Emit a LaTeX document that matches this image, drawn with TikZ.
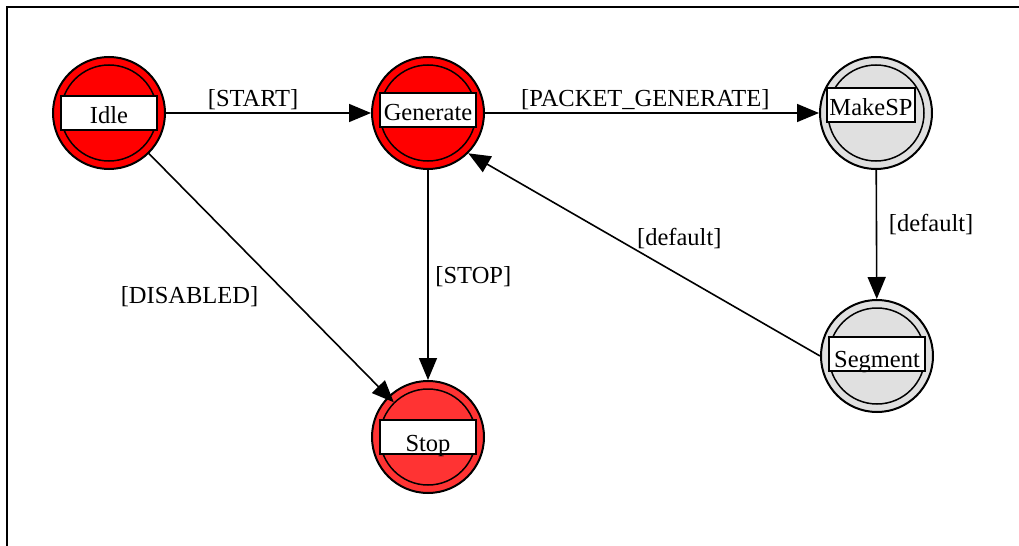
\documentclass[tikz,border=0pt]{standalone}
\usepackage{fontspec}
\setmainfont{Liberation Serif}
\usetikzlibrary{arrows.meta,positioning}

\definecolor{statered}{RGB}{255,0,0}
\definecolor{stopred}{RGB}{255,51,51}
\definecolor{stategray}{RGB}{224,224,224}

\begin{document}
\begin{tikzpicture}[x=0.5pt, y=-0.5pt,
    font=\fontsize{12.25}{14}\selectfont,
    state/.style={circle, draw, line width=1pt, minimum size=56pt, inner sep=0pt},
    ring/.style={circle, draw, line width=0.75pt, minimum size=48pt, inner sep=0pt},
    namebox/.style={draw, fill=white, line width=1pt, minimum width=48pt, minimum height=17pt,
        inner sep=0pt, text height=10.5pt, text depth=0pt},
    trans/.style={-{Triangle[length=11pt, width=9pt]}, line width=0.8pt}]
    \useasboundingbox (0,0) rectangle (1019,546);

    % Frame (cut off at right and bottom)
    \draw[line width=1pt] (1019,7) -- (7,7) -- (7,546);

    % Idle
    \node[state, fill=statered] (idle) at (109,113) {};
    \node[ring] (idlering) at (idle) {};
    \node[namebox] (idlename) at (idle) {Idle};

    % Generate
    \node[state, fill=statered] (generate) at (428,113) {};
    \node[ring] (generatering) at (generate) {};
    \node[namebox] (generatename) at ([yshift=1.5pt]generate) {Generate};

    % MakeSP
    \node[state, fill=stategray] (makesp) at (876,113) {};
    \node[ring] (makespring) at (makesp) {};
    \node[namebox, minimum width=44pt] (makespname) at ([xshift=-2.5pt, yshift=4pt]makesp) {MakeSP};

    % Segment
    \node[state, fill=stategray] (segment) at (877,356) {};
    \node[ring] (segmentring) at (segment) {};
    \node[namebox, text height=13pt] (segmentname) at ([yshift=1pt]segment) {Segment};

    % Stop
    \node[state, fill=stopred] (stop) at (428,437) {};
    \node[ring] (stopring) at (stop) {};
    \node[namebox, text height=14.5pt] (stopname) at (stop) {Stop};

    % Transitions
    \draw[trans] (idle) -- node[pos=0.425, above, inner sep=1pt] (startlabel) {[START]} (generate);
    \draw[trans] (generate) -- node[pos=0.48, above, inner sep=1pt] (packetlabel) {[PACKET\_GENERATE]} (makesp);
    \draw[trans] (idle) -- node[pos=0.575, left=12pt] (disabledlabel) {[DISABLED]} (stopring);
    \draw[trans] (generate) -- node[pos=0.507, right] (stoplabel) {[STOP]} (stop);
    \draw[trans] (makesp) -- node[pos=0.42, right=2.5pt] (makedefault) {[default]} (segment);
    \draw[trans] (segment.west) -- node[pos=0.4, above=9.5pt] (segdefault) {[default]} (generate.south east);
\end{tikzpicture}
\end{document}
